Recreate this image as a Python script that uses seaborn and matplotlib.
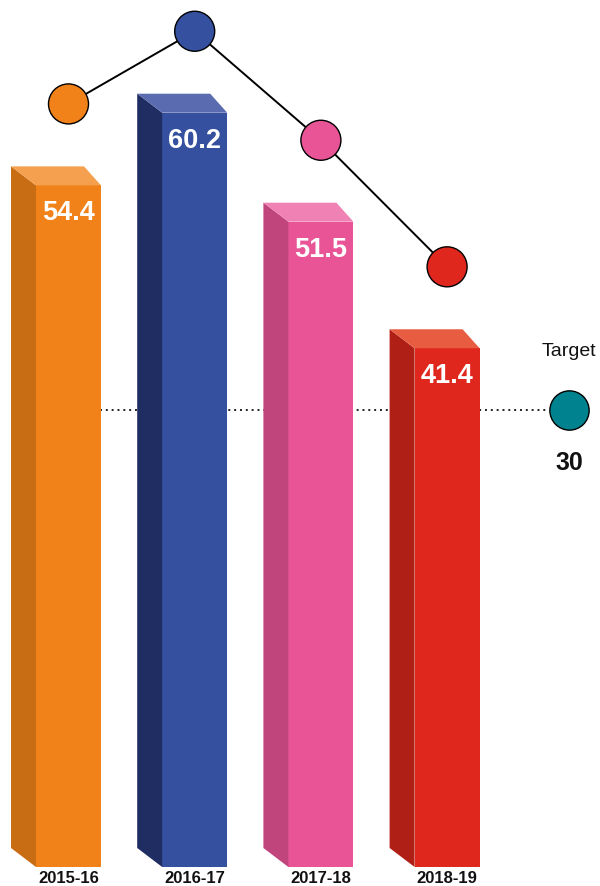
import matplotlib
matplotlib.use("Agg")
import matplotlib.pyplot as plt
from matplotlib.patches import Polygon
import seaborn as sns
import pandas as pd

# Data
years = ["2015-16", "2016-17", "2017-18", "2018-19"]
values = [54.4, 60.2, 51.5, 41.4]
target_label = "Target"
target_value = 30

front_colors = ["#F08219", "#34509E", "#E95497", "#E0271E"]
side_colors = ["#C96D15", "#1F2D62", "#C0457D", "#B01F15"]
top_colors = ["#F4A04E", "#5B6BAF", "#EF81B4", "#E85C42"]
target_color = "#00838F"

sns.set_theme(style="white")
plt.rcParams["font.family"] = ["Liberation Sans", "DejaVu Sans"]

W, H, DPI = 600, 887, 100
fig = plt.figure(figsize=(W / DPI, H / DPI), dpi=DPI)
bottom_px = 19
ax = fig.add_axes([0, bottom_px / H, 1, (H - bottom_px) / H])

# scale: pixels per data unit
px_per_x = 126.2
px_per_y = 12.53
x_left = -68.5 / px_per_x

df = pd.DataFrame({"year": years, "value": values})
sns.barplot(data=df, x="year", y="value", hue="year", palette=front_colors,
            width=65 / px_per_x, legend=False, ax=ax, zorder=2,
            linewidth=0, saturation=1)
ax.set_xlim(x_left, x_left + W / px_per_x)
ax.set_ylim(0, (H - bottom_px) / px_per_y)

# depth of the extruded faces, in data units
dx_side = 25 / px_per_x
dx_back = 17 / px_per_x
dy = 19 / px_per_y

for i, patch in enumerate(ax.patches[:len(values)]):
    xl = patch.get_x()
    xr = xl + patch.get_width()
    top = patch.get_height()
    side = Polygon([(xl - dx_side, top + dy), (xl, top), (xl, 0), (xl - dx_side, dy)],
                   closed=True, facecolor=side_colors[i], edgecolor="none", zorder=2)
    lid = Polygon([(xl, top), (xr, top), (xr - dx_back, top + dy), (xl - dx_side, top + dy)],
                  closed=True, facecolor=top_colors[i], edgecolor="none", zorder=2)
    ax.add_patch(side)
    ax.add_patch(lid)
    ax.annotate(f"{values[i]}", xy=(i, top), xytext=(0, -19.5), textcoords="offset points",
                ha="center", va="center", color="white", fontsize=19.5, fontweight="bold",
                zorder=5)

# marker layer sits above the bar tops
marker_lift = 6.5
xs = list(range(len(values)))
marker_y = [v + marker_lift for v in values]
sns.lineplot(x=xs, y=marker_y, color="black", linewidth=1.4, ax=ax, zorder=3, sort=False)
sns.scatterplot(x=xs, y=marker_y, hue=years, palette=front_colors, s=830,
                edgecolor="black", linewidth=1, legend=False, ax=ax, zorder=4)

# target reference
tx = (569 - 68.5) / px_per_x
ty = target_value + marker_lift
ax.plot([(100 - 68.5) / px_per_x, tx - 20 / px_per_x], [ty, ty], color="#222222",
        linewidth=1.4, linestyle=(0, (1, 2.0)), zorder=1)
ax.scatter([tx], [ty], s=800, color=target_color, edgecolor="black", linewidth=1, zorder=4)
ax.annotate(target_label, xy=(tx, ty), xytext=(0, 42.5), textcoords="offset points",
            ha="center", va="center", fontsize=14, color="#111111")
ax.annotate(f"{target_value}", xy=(tx, ty), xytext=(0, -37.5), textcoords="offset points",
            ha="center", va="center", fontsize=18, fontweight="bold", color="#111111")

ax.set_xlabel("")
ax.set_ylabel("")
ax.set_yticks([])
ax.tick_params(axis="x", length=0, pad=2.5)
for lab in ax.get_xticklabels():
    lab.set_fontweight("bold")
    lab.set_fontsize(12)
    lab.set_color("#111111")
for s in ax.spines.values():
    s.set_visible(False)
ax.patch.set_alpha(0)

fig.savefig("out.png", dpi=DPI)
